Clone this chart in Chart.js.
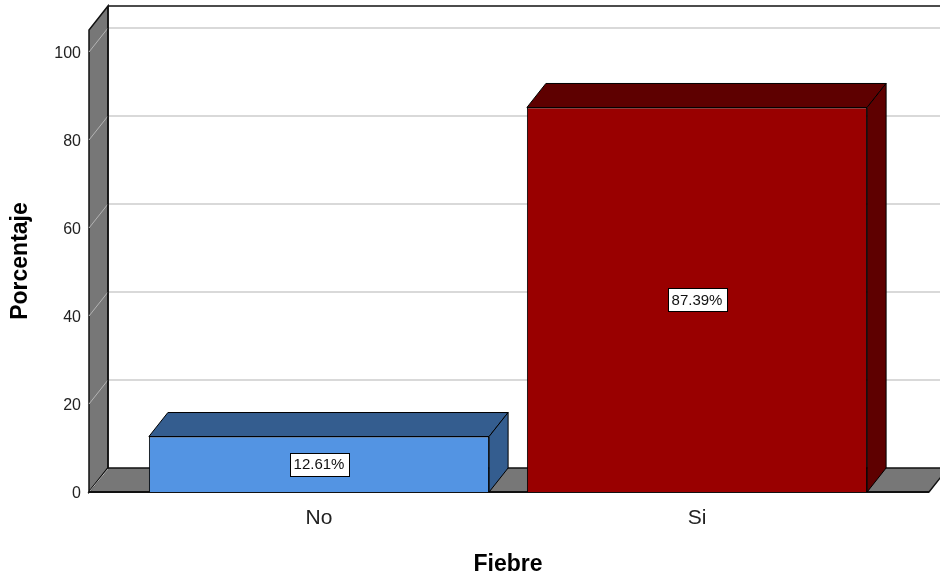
<!DOCTYPE html>
<html><head><meta charset="utf-8">
<script src="https://cdn.jsdelivr.net/npm/chart.js@4.4.1/dist/chart.umd.min.js"></script>
<style>html,body{margin:0;padding:0;background:#fff}#wrap{width:940px;height:575px;position:relative}</style>
</head><body><div id="wrap"><canvas id="c"></canvas></div>
<script>
const categories = ['No', 'Si'];
const percentages = [12.61, 87.39];
const yTicks = [0, 20, 40, 60, 80, 100];
const yMax = 105;
const frontColors = ['#5394e3', '#990000'];
const darkColors = ['#345d8f', '#5e0000'];
const xTitle = 'Fiebre';
const yTitle = 'Porcentaje';

const DX = 19, DY = -24;
const FONT = "'Liberation Sans', Arial, Helvetica, sans-serif";

const depthPlugin = {
  id: 'depth',
  beforeDatasetsDraw(chart) {
    const {ctx, chartArea: ca, scales: {y}} = chart;
    const W = chart.width;
    const wx = ca.left - 41, fx = ca.right + 43;
    const y0 = y.getPixelForValue(0), yt = y.getPixelForValue(y.max);
    ctx.save();
    ctx.lineJoin = 'miter';
    ctx.strokeStyle = '#111'; ctx.lineWidth = 1.5;
    ctx.beginPath(); ctx.moveTo(wx + DX, yt + DY); ctx.lineTo(W, yt + DY); ctx.stroke();
    ctx.fillStyle = '#777';
    ctx.beginPath();
    ctx.moveTo(wx, y0); ctx.lineTo(wx, yt); ctx.lineTo(wx + DX, yt + DY); ctx.lineTo(wx + DX, y0 + DY);
    ctx.closePath(); ctx.fill(); ctx.stroke();
    yTicks.forEach(v => {
      if (v === 0) return;
      const py = y.getPixelForValue(v);
      ctx.strokeStyle = '#b4b4b4'; ctx.lineWidth = 1;
      ctx.beginPath(); ctx.moveTo(wx, py); ctx.lineTo(wx + DX, py + DY); ctx.stroke();
      ctx.strokeStyle = '#cccccc'; ctx.lineWidth = 1.6;
      ctx.beginPath(); ctx.moveTo(wx + DX + 1, py + DY); ctx.lineTo(W, py + DY); ctx.stroke();
    });
    ctx.strokeStyle = '#111'; ctx.lineWidth = 1.5;
    ctx.beginPath(); ctx.moveTo(wx + DX, yt + DY); ctx.lineTo(wx + DX, y0 + DY); ctx.stroke();
    ctx.fillStyle = '#777';
    ctx.beginPath();
    ctx.moveTo(wx, y0); ctx.lineTo(fx, y0); ctx.lineTo(fx + DX, y0 + DY); ctx.lineTo(wx + DX, y0 + DY);
    ctx.closePath(); ctx.fill();
    ctx.lineWidth = 1.5; ctx.strokeStyle = '#111'; ctx.stroke();
    ctx.strokeStyle = '#b4b4b4'; ctx.lineWidth = 1;
    ctx.beginPath(); ctx.moveTo(wx + 1, y0 - 1); ctx.lineTo(wx + DX, y0 + DY + 1); ctx.stroke();
    ctx.strokeStyle = '#111'; ctx.lineWidth = 2;
    ctx.beginPath(); ctx.moveTo(wx, y0); ctx.lineTo(fx, y0); ctx.stroke();
    ctx.restore();
  },
  afterDatasetsDraw(chart) {
    const {ctx} = chart;
    const meta = chart.getDatasetMeta(0);
    ctx.save();
    meta.data.forEach((bar, i) => {
      const p = bar.getProps(['x', 'y', 'base', 'width'], true);
      const l = p.x - p.width / 2, r = p.x + p.width / 2, t = p.y, b = p.base;
      ctx.fillStyle = darkColors[i];
      ctx.strokeStyle = '#000'; ctx.lineWidth = 1;
      ctx.beginPath();
      ctx.moveTo(l, t); ctx.lineTo(r, t); ctx.lineTo(r + DX, t + DY); ctx.lineTo(l + DX, t + DY);
      ctx.closePath(); ctx.fill(); ctx.stroke();
      ctx.beginPath();
      ctx.moveTo(r, t); ctx.lineTo(r + DX, t + DY); ctx.lineTo(r + DX, b + DY); ctx.lineTo(r, b);
      ctx.closePath(); ctx.fill(); ctx.stroke();
      const txt = percentages[i].toFixed(2) + '%';
      ctx.font = '15px ' + FONT;
      const tw = ctx.measureText(txt).width;
      const cy = (t + b) / 2;
      const bw = Math.round(tw + 8), bh = 23;
      const bx = Math.round(p.x - bw / 2) + 0.5, by = Math.round(cy - bh / 2) + 0.5;
      ctx.fillStyle = '#fff';
      ctx.fillRect(bx, by, bw, bh);
      ctx.strokeStyle = '#000'; ctx.lineWidth = 1;
      ctx.strokeRect(bx, by, bw, bh);
      ctx.fillStyle = '#111';
      ctx.textAlign = 'center'; ctx.textBaseline = 'middle';
      ctx.fillText(txt, p.x, cy + 1);
    });
    ctx.restore();
  }
};

new Chart(document.getElementById('c'), {
  type: 'bar',
  data: {
    labels: categories,
    datasets: [{
      data: percentages,
      backgroundColor: frontColors,
      borderColor: '#000',
      borderWidth: 1,
      barPercentage: 0.9,
      categoryPercentage: 1
    }]
  },
  options: {
    responsive: true,
    maintainAspectRatio: false,
    animation: false,
    layout: { padding: { left: 0, right: 54, top: 30, bottom: 0 } },
    plugins: { legend: { display: false }, tooltip: { enabled: false } },
    scales: {
      x: {
        offset: true,
        grid: { display: false, drawTicks: false },
        border: { display: false },
        afterFit(scale) { scale.height = 83; scale.paddingLeft = 0; scale.paddingRight = 0; },
        ticks: { color: '#222', font: { family: FONT, size: 21 }, padding: 14 },
        title: { display: true, text: xTitle, color: '#000', font: { family: FONT, size: 23, weight: 'bold' }, padding: { top: 10, bottom: -3 } }
      },
      y: {
        min: 0, max: yMax,
        grid: { display: false, drawTicks: false },
        border: { display: false },
        afterBuildTicks(scale) { scale.ticks = yTicks.map(v => ({ value: v })); },
        afterFit(scale) { scale.width = 130; scale.paddingTop = 0; scale.paddingBottom = 0; },
        ticks: { color: '#222', font: { family: FONT, size: 16 }, padding: 49, labelOffset: 2 },
        title: { display: true, text: yTitle, color: '#000', font: { family: FONT, size: 23, weight: 'bold' }, padding: { top: 7, bottom: 10 } }
      }
    }
  },
  plugins: [depthPlugin]
});
</script></body></html>
